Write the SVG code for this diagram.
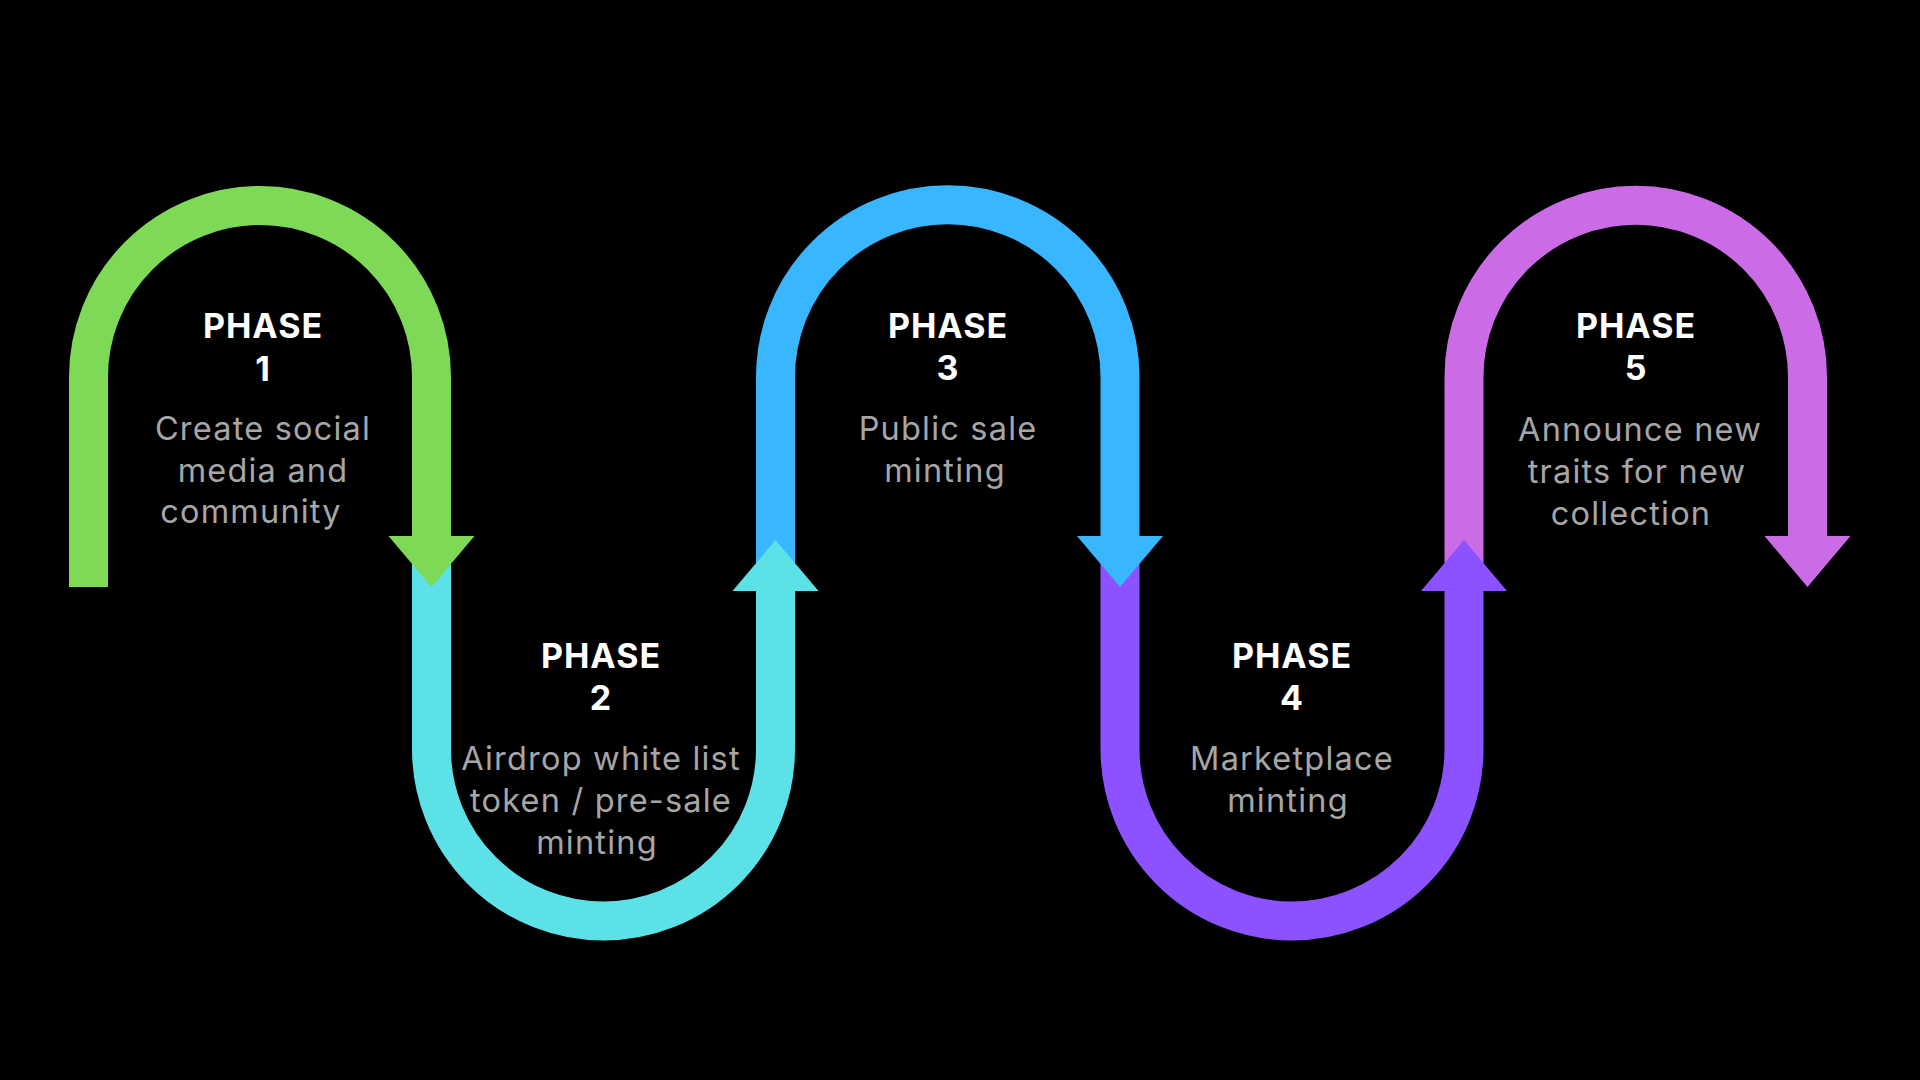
<svg xmlns="http://www.w3.org/2000/svg" width="1920" height="1080" viewBox="0 0 1920 1080">
<style>
.band{fill:none;stroke-width:39;stroke-linecap:butt}
.t{font-family:Inter,"Noto Sans","Liberation Sans",sans-serif;font-weight:700;font-size:34px;fill:#ffffff;text-anchor:middle;letter-spacing:1px}
.d{font-family:Inter,"Noto Sans","Liberation Sans",sans-serif;font-weight:400;font-size:32.5px;fill:#a6a6a6;text-anchor:middle;letter-spacing:1.2px}
</style>
<rect x="0" y="0" width="1920" height="1080" fill="#000000"/>
<g id="connectors">
<g id="phase5-band">
<path class="band" stroke="#cb6ce6" d="M1464 587 V377 A171.75 171.75 0 0 1 1807.5 377 V536"/>
<polygon fill="#cb6ce6" points="1764.5,536 1850.5,536 1807.5,587"/>
</g>
<g id="phase4-band">
<path class="band" stroke="#8c52ff" d="M1120 560 V749 A172 172 0 0 0 1464 749 V591"/>
<polygon fill="#8c52ff" points="1421,591 1507,591 1464,540"/>
</g>
<g id="phase3-band">
<path class="band" stroke="#38b6ff" d="M775.5 587 V377 A172.25 172.25 0 0 1 1120 377 V536"/>
<polygon fill="#38b6ff" points="1077,536 1163,536 1120,587"/>
</g>
<g id="phase2-band">
<path class="band" stroke="#5ce1e6" d="M431.5 560 V749 A172 172 0 0 0 775.5 749 V591"/>
<polygon fill="#5ce1e6" points="732.5,591 818.5,591 775.5,540"/>
</g>
<g id="phase1-band">
<path class="band" stroke="#7ed957" d="M88.5 587 V377 A171.5 171.5 0 0 1 431.5 377 V536"/>
<polygon fill="#7ed957" points="388.5,536 474.5,536 431.5,587"/>
</g>
</g>
<g id="phase1">
<text class="t" x="263" y="338">PHASE</text>
<text class="t" x="263" y="381">1</text>
<text class="d" x="263" y="440">Create social</text>
<text class="d" x="263" y="482">media and</text>
<text class="d" x="251" y="523">community</text>
</g>
<g id="phase2">
<text class="t" x="601" y="668">PHASE</text>
<text class="t" x="601" y="710">2</text>
<text class="d" x="601" y="770">Airdrop white list</text>
<text class="d" x="601" y="812">token / pre-sale</text>
<text class="d" x="597" y="854">minting</text>
</g>
<g id="phase3">
<text class="t" x="948" y="338">PHASE</text>
<text class="t" x="948" y="380">3</text>
<text class="d" x="948" y="440">Public sale</text>
<text class="d" x="945" y="482">minting</text>
</g>
<g id="phase4">
<text class="t" x="1292" y="668">PHASE</text>
<text class="t" x="1292" y="710">4</text>
<text class="d" x="1292" y="770">Marketplace</text>
<text class="d" x="1288" y="812">minting</text>
</g>
<g id="phase5">
<text class="t" x="1636" y="338">PHASE</text>
<text class="t" x="1636" y="380">5</text>
<text class="d" x="1640" y="441">Announce new</text>
<text class="d" x="1637" y="483">traits for new</text>
<text class="d" x="1631" y="525">collection</text>
</g>
</svg>
